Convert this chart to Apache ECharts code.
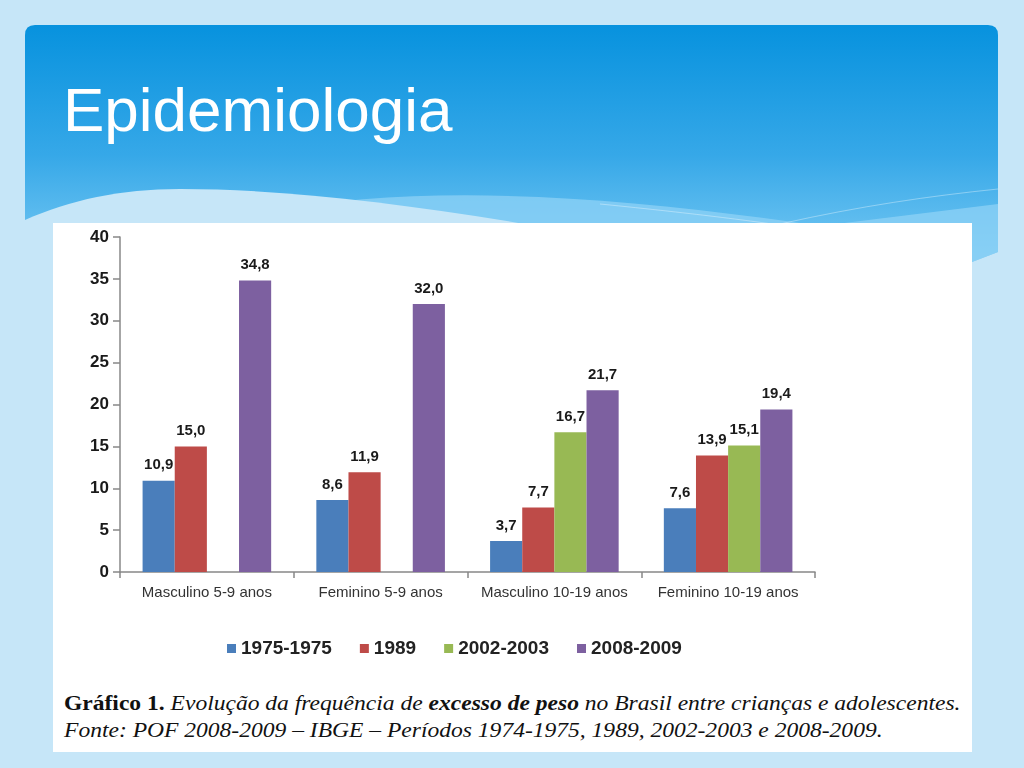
<!DOCTYPE html>
<html>
<head>
<meta charset="utf-8">
<script src="https://cdn.jsdelivr.net/npm/echarts@6/dist/echarts.min.js"></script>
<style>
html, body { margin: 0; padding: 0; }
body { width: 1024px; height: 768px; background: #c6e6f8; position: relative; overflow: hidden; font-family: "Liberation Sans", Arial, sans-serif; }
#bg { position: absolute; left: 0; top: 0; }
#title { position: absolute; left: 63px; top: 74px; font-size: 62px; line-height: 72px; color: #fff; white-space: nowrap; }
#card { position: absolute; left: 53px; top: 223px; width: 919px; height: 529px; background: #fff; }
#caption { position: absolute; left: 64px; top: 689px; font-family: "Liberation Serif", "Times New Roman", serif; font-size: 22px; line-height: 27px; color: #111; font-style: italic; white-space: nowrap; }
#caption span { display: block; transform-origin: 0 50%; transform: scaleX(1.07); }
#caption b { font-style: italic; }
#caption b.up { font-style: normal; }
#chart { position: absolute; left: 0; top: 0; width: 1024px; height: 768px; }
</style>
</head>
<body>
<svg id="bg" width="1024" height="768">
  <defs>
    <linearGradient id="hg" x1="0" y1="0" x2="0" y2="1">
      <stop offset="0" stop-color="#0792de"/>
      <stop offset="0.55" stop-color="#36a8e8"/>
      <stop offset="1" stop-color="#78c9f3"/>
    </linearGradient>
  </defs>
  <!-- header band -->
  <path d="M25 35 Q25 25 35 25 L988 25 Q998 25 998 35 L998 252 L972 262 L25 262 Z" fill="url(#hg)"/>
  <!-- lighter wave on the right -->
  <path d="M270 212 C420 182 620 196 820 226 L998 204 L998 252 L972 262 L270 262 Z" fill="#8dd1f6" opacity="0.75"/>
  <path d="M600 204 C700 214 760 222 800 228" stroke="#ffffff" stroke-opacity="0.35" fill="none"/>
  <path d="M780 224 C860 206 930 196 998 189" stroke="#ffffff" stroke-opacity="0.35" fill="none"/>
  <!-- pale wave on the left -->
  <path d="M25 220 C70 200 120 189 180 189 C290 189 420 205 570 232 L570 262 L25 262 Z" fill="#c6e6f8"/>
</svg>
<div id="title">Epidemiologia</div>
<div id="card"></div>
<div id="caption"><span><b class="up">Gráfico 1.</b> Evolução da frequência de <b>excesso de peso</b> no Brasil entre crianças e adolescentes.</span><span>Fonte: POF 2008-2009 – IBGE – Períodos 1974-1975, 1989, 2002-2003 e 2008-2009.</span></div>
<div id="chart"></div>
<script>
// dados (POF 2008-2009)
var categorias = ['Masculino 5-9 anos', 'Feminino 5-9 anos', 'Masculino 10-19 anos', 'Feminino 10-19 anos'];
var periodos = ['1975-1975', '1989', '2002-2003', '2008-2009'];
var p1975 = [10.9, 8.6, 3.7, 7.6];
var p1989 = [15.0, 11.9, 7.7, 13.9];
var p2002 = [null, null, 16.7, 15.1];
var p2008 = [34.8, 32.0, 21.7, 19.4];
var cores = ['#4a7ebb', '#be4b48', '#98b954', '#7d60a0'];

var myChart = echarts.init(document.getElementById('chart'));

function serie(nome, dados, cor) {
    return {
        name: nome,
        type: 'bar',
        data: dados,
        barGap: '0%',
        barCategoryGap: '26%',
        itemStyle: { color: cor },
        label: {
            show: true,
            position: 'top',
            distance: 8,
            color: '#1a1a1a',
            fontWeight: 'bold',
            fontSize: 15,
            fontFamily: 'Liberation Sans',
            formatter: function (p) { return p.value.toFixed(1).replace('.', ','); }
        }
    };
}

var option = {
    animation: false,
    backgroundColor: 'transparent',
    color: cores,
    grid: { left: 120, right: 209, top: 237, bottom: 196 },
    legend: {
        data: periodos,
        left: 222,
        top: 634,
        icon: 'rect',
        itemWidth: 9,
        itemHeight: 9,
        itemGap: 28,
        textStyle: { fontSize: 19, fontWeight: 'bold', color: '#222', fontFamily: 'Liberation Sans' }
    },
    xAxis: {
        type: 'category',
        data: categorias,
        axisLine: { lineStyle: { color: '#888', width: 1.5 } },
        axisTick: { show: true, length: 6, lineStyle: { color: '#888', width: 1.5 } },
        axisLabel: { interval: 0, color: '#333', fontSize: 15, margin: 13, fontFamily: 'Liberation Sans' }
    },
    yAxis: {
        type: 'value',
        min: 0,
        max: 40,
        interval: 5,
        splitLine: { show: false },
        axisLine: { show: true, lineStyle: { color: '#888', width: 1.5 } },
        axisTick: { show: true, length: 7, lineStyle: { color: '#888', width: 1.5 } },
        axisLabel: { color: '#1a1a1a', fontSize: 17, fontWeight: 'bold', margin: 11, fontFamily: 'Liberation Sans' }
    },
    series: [
        serie(periodos[0], p1975, cores[0]),
        serie(periodos[1], p1989, cores[1]),
        serie(periodos[2], p2002, cores[2]),
        serie(periodos[3], p2008, cores[3])
    ]
};

myChart.setOption(option);
</script>
</body>
</html>
